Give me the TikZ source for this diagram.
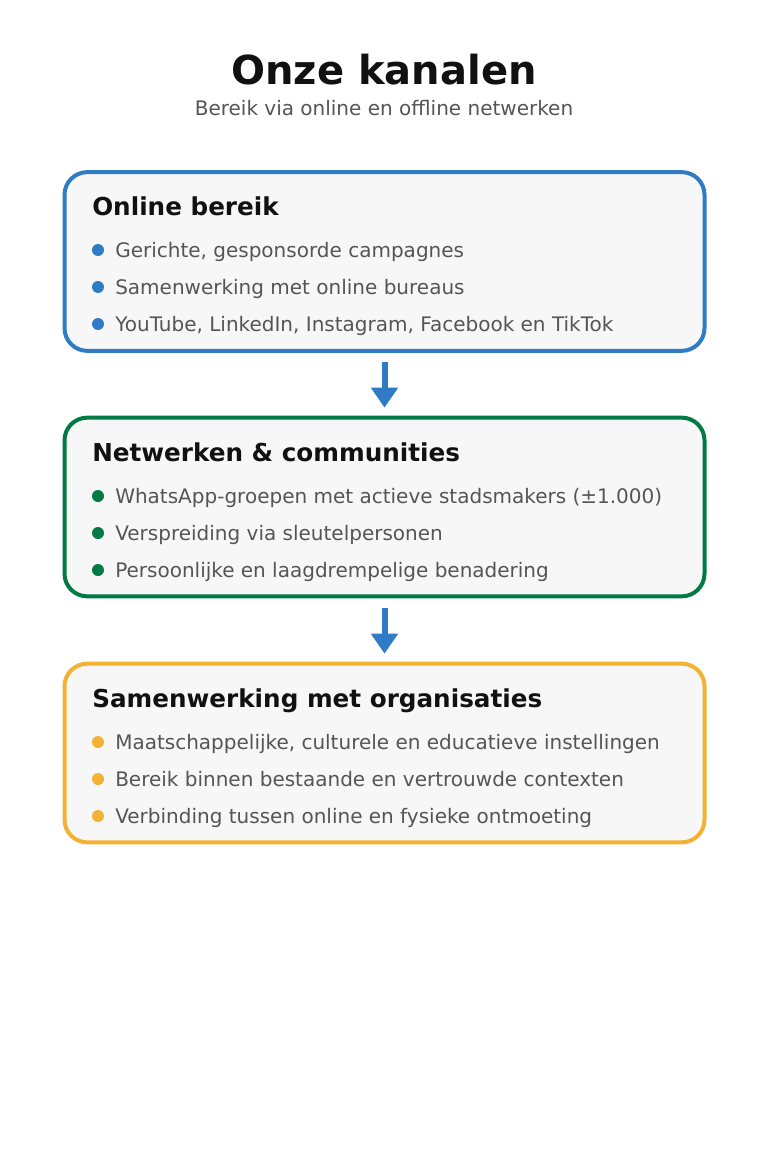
\documentclass[tikz,border=0pt]{standalone}
\usepackage{fontspec}
\setmainfont{DejaVu Sans}
\usepackage{xcolor}
\usetikzlibrary{arrows.meta,positioning}
\definecolor{mblue}{HTML}{2F7BC5}
\definecolor{mgreen}{HTML}{017A46}
\definecolor{myellow}{HTML}{F2B233}
\definecolor{mfill}{HTML}{F7F7F7}
\definecolor{mtext}{HTML}{555555}
\definecolor{mhead}{HTML}{111111}
\tikzstyle{box}=[rectangle, rounded corners=17pt, line width=3pt, fill=mfill, minimum width=480pt, minimum height=134pt, inner sep=0pt]
\tikzstyle{head}=[anchor=base west, inner sep=0pt, text=mhead, font=\bfseries\fontsize{18.5pt}{22pt}\selectfont]
\tikzstyle{item}=[anchor=base west, inner sep=0pt, text=mtext, font=\fontsize{15pt}{18pt}\selectfont]
\tikzstyle{dot}=[circle, inner sep=0pt, minimum size=9pt]
\tikzstyle{flow}=[line width=4.5pt, draw=mblue, -{Triangle[width=19.5pt,length=15pt]}, shorten <=7pt, shorten >=6pt]

\begin{document}
\begin{tikzpicture}[x=0.75pt,y=-0.75pt]
    \useasboundingbox[fill=white] (0,0) rectangle (768,1152);

    \node[anchor=base, inner sep=0pt, text=mhead, font=\bfseries\fontsize{30pt}{36pt}\selectfont] (title) at (384,85) {Onze kanalen};
    \node[anchor=base, inner sep=0pt, text=mtext, font=\fontsize{15pt}{18pt}\selectfont] (subtitle) at (384,116) {Bereik via online en offline netwerken};

    % online
    \node[box, draw=mblue] (online) at (384.5,261.5) {};
    \node[head] (onlinehead) at (92,215) {Online bereik};
    \node[dot, fill=mblue] (d1) at (98,250) {};
    \node[dot, fill=mblue] (d2) at (98,287) {};
    \node[dot, fill=mblue] (d3) at (98,324) {};
    \node[item] (t1) at (115,257.5) {Gerichte, gesponsorde campagnes};
    \node[item] (t2) at (115,294.5) {Samenwerking met online bureaus};
    \node[item] (t3) at (115,331.5) {YouTube, LinkedIn, Instagram, Facebook en TikTok};

    % netwerken
    \node[box, draw=mgreen] (netwerk) at (384.5,507) {};
    \node[head] (netwerkhead) at (92,461) {Netwerken \& communities};
    \node[dot, fill=mgreen] (d4) at (98,496) {};
    \node[dot, fill=mgreen] (d5) at (98,533) {};
    \node[dot, fill=mgreen] (d6) at (98,570) {};
    \node[item] (t4) at (115,503.5) {WhatsApp-groepen met actieve stadsmakers (±1.000)};
    \node[item] (t5) at (115,540.5) {Verspreiding via sleutelpersonen};
    \node[item] (t6) at (115,577.5) {Persoonlijke en laagdrempelige benadering};

    % organisaties
    \node[box, draw=myellow] (organisatie) at (384.5,753) {};
    \node[head] (organisatiehead) at (92,707) {Samenwerking met organisaties};
    \node[dot, fill=myellow] (d7) at (98,742) {};
    \node[dot, fill=myellow] (d8) at (98,779) {};
    \node[dot, fill=myellow] (d9) at (98,816) {};
    \node[item] (t7) at (115,749.5) {Maatschappelijke, culturele en educatieve instellingen};
    \node[item] (t8) at (115,786.5) {Bereik binnen bestaande en vertrouwde contexten};
    \node[item] (t9) at (115,823.5) {Verbinding tussen online en fysieke ontmoeting};

    \draw[flow] (online) -- (netwerk);
    \draw[flow] (netwerk) -- (organisatie);
\end{tikzpicture}
\end{document}
